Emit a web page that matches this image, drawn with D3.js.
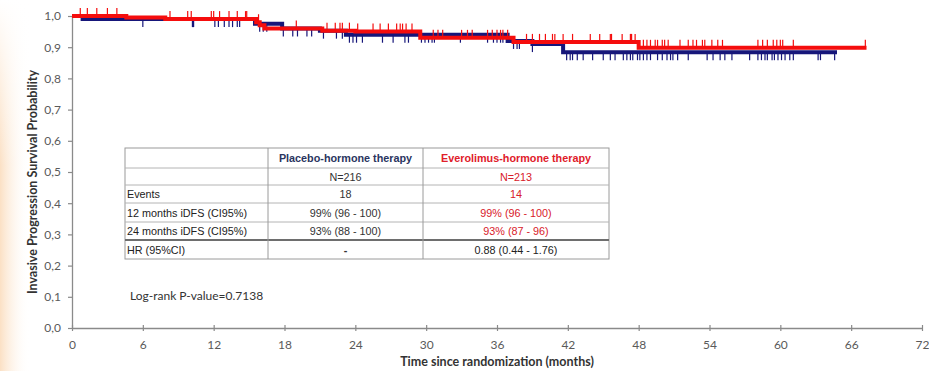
<!DOCTYPE html>
<html>
<head>
<meta charset="utf-8">
<script src="https://cdn.jsdelivr.net/npm/d3@7/dist/d3.min.js"></script>
<style>
  html, body { margin: 0; padding: 0; background: #fff; }
  svg { display: block; }
</style>
</head>
<body>
<svg id="chart" width="929" height="371"></svg>
<script>
// --- data (months / survival probability) ---
const xTicks = [0, 6, 12, 18, 24, 30, 36, 42, 48, 54, 60, 66, 72];
const yTicks = [0, 0.1, 0.2, 0.3, 0.4, 0.5, 0.6, 0.7, 0.8, 0.9, 1.0];

// Everolimus-hormone therapy (red)
const redStepTimes = [0, 4.6, 7.9, 15.6, 15.9, 16.3, 21.2, 24.0, 29.5, 37.4, 48.0];
const redStepSurv  = [1.0, 0.995, 0.99, 0.98, 0.97, 0.96, 0.953, 0.95, 0.93, 0.917, 0.898];
const redEnd = 67.3;
const redCensor = [0.7, 1.3, 2.1, 3.0, 3.8, 8.3, 9.8, 10.1, 11.8, 12.0, 12.5, 13.3, 14.0, 14.7, 14.8,
  15.8, 19.0, 21.6, 22.3, 22.7, 22.9, 23.5, 24.2, 25.5, 26.1, 26.8, 27.5, 27.8, 28.0, 28.3, 28.8,
  30.6, 31.0, 31.4, 33.0, 33.5, 33.9, 35.2, 35.6, 36.0, 36.3, 36.5, 36.9, 38.5, 39.0, 39.6, 40.1,
  40.7, 40.9, 41.6, 42.4, 43.9, 44.7, 45.6, 45.7, 46.6, 47.3, 47.4, 47.7, 48.4, 48.7, 49.0, 49.4,
  49.6, 50.0, 50.2, 50.5, 51.5, 52.2, 52.6, 52.9, 53.4, 53.6, 54.2, 54.7, 55.1, 58.1, 58.5, 58.9,
  59.4, 59.7, 60.0, 60.2, 61.1, 67.2];

// Placebo-hormone therapy (blue)
const blueStepTimes = [0, 0.9, 15.5, 17.8, 21.0, 23.2, 36.9, 39.0, 41.6];
const blueStepSurv  = [1.0, 0.99, 0.975, 0.96, 0.953, 0.94, 0.92, 0.91, 0.884];
const blueEnd = 64.8;
const blueCensor = [6.0, 10.2, 10.3, 12.1, 12.4, 12.9, 13.3, 13.6, 14.0, 14.2, 15.9, 16.2, 16.5,
  17.9, 18.7, 19.1, 19.9, 20.3, 21.3, 22.4, 22.9, 23.5, 23.8, 24.1, 24.6, 26.3, 27.2, 28.2, 28.5,
  29.6, 29.9, 30.2, 30.5, 30.7, 32.9, 35.2, 35.7, 36.0, 36.3, 36.5, 37.4, 37.7, 37.9, 39.0, 41.9,
  42.2, 42.4, 42.8, 43.3, 44.1, 45.0, 45.6, 46.0, 46.7, 47.0, 47.3, 47.5, 47.9, 48.1, 48.4, 48.7,
  49.0, 49.6, 50.0, 50.4, 50.7, 50.9, 51.3, 52.2, 53.8, 54.3, 54.9, 55.3, 55.9, 57.4, 58.1, 58.4,
  58.7, 58.9, 59.3, 59.5, 59.8, 60.1, 60.4, 60.8, 61.1, 63.2, 63.4, 64.6];

// summary table
const tableHeaders = ['', 'Placebo-hormone therapy', 'Everolimus-hormone therapy'];
const tableLabels  = ['', 'Events', '12 months iDFS (CI95%)', '24 months iDFS (CI95%)', 'HR (95%CI)'];
const placeboCol   = ['N=216', '18', '99% (96 - 100)', '93% (88 - 100)', '-'];
const everoCol     = ['N=213', '14', '99% (96 - 100)', '93% (87 - 96)', '0.88 (0.44 - 1.76)'];

const pValueText = 'Log-rank P-value=0.7138';
const xTitle = 'Time since randomization (months)';
const yTitle = 'Invasive Progression Survival Probability';

// --- drawing ---
const svg = d3.select('#chart');
const blue = '#16167a';
const red = '#f50d0d';
const uiFont = 'Lato, "Open Sans", sans-serif';

// faint warm band on the left edge
const defs = svg.append('defs');
const grad = defs.append('linearGradient').attr('id', 'edge').attr('x1', 0).attr('x2', 1);
grad.append('stop').attr('offset', 0).attr('stop-color', '#fbe0c4');
grad.append('stop').attr('offset', 1).attr('stop-color', '#ffffff').attr('stop-opacity', 0);
const grad2 = defs.append('linearGradient').attr('id', 'edgeV').attr('x1', 0).attr('x2', 0).attr('y1', 0).attr('y2', 1);
grad2.append('stop').attr('offset', 0).attr('stop-color', '#fff').attr('stop-opacity', 1);
grad2.append('stop').attr('offset', 0.45).attr('stop-color', '#fff').attr('stop-opacity', 0);
svg.append('rect').attr('x', 0).attr('y', 0).attr('width', 30).attr('height', 371).attr('fill', 'url(#edge)');
svg.append('rect').attr('x', 0).attr('y', 0).attr('width', 30).attr('height', 371).attr('fill', 'url(#edgeV)');

const x = d3.scaleLinear().domain([0, 72]).range([72, 922]);
const y = d3.scaleLinear().domain([0, 1]).range([328, 16]);

// axes
const comma = (v) => d3.format('.1f')(v).replace('.', ',');
const yAxis = svg.append('g')
  .attr('transform', `translate(${x(0)},0)`)
  .call(d3.axisLeft(y).tickValues(yTicks).tickFormat(comma).tickSize(4).tickSizeOuter(0).tickPadding(7));
const xAxis = svg.append('g')
  .attr('transform', `translate(0,${y(0)})`)
  .call(d3.axisBottom(x).tickValues(xTicks).tickFormat(d3.format('d')).tickSize(3).tickSizeOuter(0).tickPadding(9));
xAxis.selectAll('.tick line').attr('y1', -3);

[yAxis, xAxis].forEach((g) => {
  g.select('.domain').attr('stroke', '#8a8a8a').attr('stroke-width', 1.3);
  g.selectAll('.tick line').attr('stroke', '#8a8a8a').attr('stroke-width', 1.2);
  g.selectAll('.tick text').attr('fill', '#5a5a5a')
    .style('font-family', uiFont).style('font-size', '12px');
});

svg.append('text')
  .attr('x', 497).attr('y', 366)
  .attr('text-anchor', 'middle')
  .style('font-family', uiFont).style('font-size', '12.5px').style('font-weight', 'bold')
  .attr('fill', '#333')
  .text(xTitle);

svg.append('text')
  .attr('transform', 'translate(37,182) rotate(-90)')
  .attr('text-anchor', 'middle')
  .style('font-family', uiFont).style('font-size', '12.5px').style('font-weight', 'bold')
  .attr('fill', '#333')
  .text(yTitle);

// survival curves
function stepPoints(times, surv, end) {
  const pts = times.map((t, i) => [t, surv[i]]);
  pts.push([end, surv[surv.length - 1]]);
  return pts;
}
function survAt(times, surv, t) {
  let s = surv[0];
  times.forEach((tt, i) => { if (tt <= t) s = surv[i]; });
  return s;
}
const line = d3.line().x((d) => x(d[0])).y((d) => y(d[1])).curve(d3.curveStepAfter);

function drawArm(times, surv, end, censor, color, dir, width) {
  const g = svg.append('g');
  g.append('path')
    .datum(stepPoints(times, surv, end))
    .attr('d', line)
    .attr('fill', 'none')
    .attr('stroke', color)
    .attr('stroke-width', width);
  g.selectAll('line.censor')
    .data(censor)
    .join('line')
    .attr('class', 'censor')
    .attr('x1', (d) => x(d)).attr('x2', (d) => x(d))
    .attr('y1', (d) => y(survAt(times, surv, d)))
    .attr('y2', (d) => y(survAt(times, surv, d)) + dir * 8)
    .attr('stroke', color)
    .attr('stroke-width', 1.2);
}
drawArm(blueStepTimes, blueStepSurv, blueEnd, blueCensor, blue, 1, 4);
drawArm(redStepTimes, redStepSurv, redEnd, redCensor, red, -1, 4);

// table
const colX = [125, 268, 423, 609];
const rowY = [148, 168, 185, 203, 222, 240, 259];
const tg = svg.append('g').style('font-family', '"Liberation Sans", Arial, sans-serif').style('font-size', '10.8px');
tg.append('rect')
  .attr('x', colX[0]).attr('y', rowY[0])
  .attr('width', colX[3] - colX[0]).attr('height', rowY[6] - rowY[0])
  .attr('fill', '#fff').attr('stroke', '#9a9a9a').attr('stroke-width', 1);
tg.selectAll('line.row')
  .data(rowY.slice(1, 6))
  .join('line')
  .attr('class', 'row')
  .attr('x1', colX[0]).attr('x2', colX[3])
  .attr('y1', (d) => d).attr('y2', (d) => d)
  .attr('stroke', (d, i) => (i === 4 ? '#6e6e6e' : '#b4b4b4'))
  .attr('stroke-width', (d, i) => (i === 4 ? 2 : 1));
tg.selectAll('line.col')
  .data(colX.slice(1, 3))
  .join('line')
  .attr('class', 'col')
  .attr('x1', (d) => d).attr('x2', (d) => d)
  .attr('y1', rowY[0]).attr('y2', rowY[6])
  .attr('stroke', '#9a9a9a');

const rowMid = (i) => (rowY[i] + rowY[i + 1]) / 2 + 4;
const colMid = (i) => (colX[i] + colX[i + 1]) / 2;

tg.selectAll('text.hdr')
  .data(tableHeaders.slice(1))
  .join('text')
  .attr('class', 'hdr')
  .attr('x', (d, i) => colMid(i + 1)).attr('y', rowMid(0))
  .attr('text-anchor', 'middle')
  .style('font-weight', 'bold')
  .attr('fill', (d, i) => (i === 0 ? '#2a3560' : '#e0202a'))
  .text((d) => d);

tg.selectAll('text.lbl')
  .data(tableLabels)
  .join('text')
  .attr('class', 'lbl')
  .attr('x', colX[0] + 2).attr('y', (d, i) => rowMid(i + 1))
  .attr('fill', '#222')
  .text((d) => d);

tg.selectAll('text.pl')
  .data(placeboCol)
  .join('text')
  .attr('class', 'pl')
  .attr('x', colMid(1)).attr('y', (d, i) => rowMid(i + 1))
  .attr('text-anchor', 'middle')
  .attr('fill', '#333')
  .style('font-weight', (d) => (d === '-' ? 'bold' : 'normal'))
  .text((d) => d);

tg.selectAll('text.ev')
  .data(everoCol)
  .join('text')
  .attr('class', 'ev')
  .attr('x', colMid(2)).attr('y', (d, i) => rowMid(i + 1))
  .attr('text-anchor', 'middle')
  .attr('fill', (d, i) => (i === 4 ? '#222' : '#d8202a'))
  .text((d) => d);

svg.append('text')
  .attr('x', 130).attr('y', 300)
  .style('font-family', uiFont).style('font-size', '12px')
  .attr('fill', '#333')
  .text(pValueText);
</script>
</body>
</html>
